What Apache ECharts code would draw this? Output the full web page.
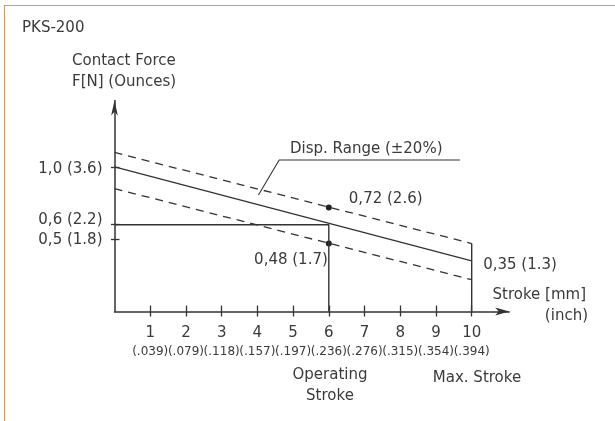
<!DOCTYPE html>
<html>
<head>
<meta charset="utf-8">
<script src="https://cdn.jsdelivr.net/npm/echarts@6/dist/echarts.min.js"></script>
<style>
html,body{margin:0;padding:0;background:#fff;}
#c{width:615px;height:421px;}
</style>
</head>
<body>
<div id="c"></div>
<script>
// ---- data ----
const strokeTicks = [1, 2, 3, 4, 5, 6, 7, 8, 9, 10];
const inchLabels = ['(.039)', '(.079)', '(.118)', '(.157)', '(.197)', '(.236)', '(.276)', '(.315)', '(.354)', '(.394)'];
const forceTicks = [0.5, 0.6, 1.0];
const forceLabels = ['0,5 (1.8)', '0,6 (2.2)', '1,0 (3.6)'];
const nominalForce = [[0, 1.0], [10, 0.35]];
const upperTolerance = [[0, 1.10], [10, 0.47]];
const lowerTolerance = [[0, 0.85], [10, 0.22]];
const operatingLine = [[0, 0.6], [6, 0.6], [6, 0]];
const maxStrokeLine = [[10, 0], [10, 0.47]];
const operatingPoints = [[6, 0.72], [6, 0.47]];
const operatingPointLabels = ['0,72 (2.6)', '0,48 (1.7)'];
const endPoint = [[10, 0.35]];
const endPointLabel = '0,35 (1.3)';
const leaderLine = [[4.03, 0.806], [4.61, 1.048], [9.67, 1.048]];

const FONT = 'DejaVu Sans';
const INK = '#333';
const TXT = '#3a3a3a';

// ---- geometry ----
const X0 = 114.5, PXX = 35.72, XMAX = 11.05;
const Y0 = 311.5, PXY = 144.6, YMAX = 1.46;

const chart = echarts.init(document.getElementById('c'));

function txt(text, x, y, align, size) {
  return {
    type: 'text', x: x, y: y, silent: true,
    style: { text: text, font: (size || 15) + 'px "' + FONT + '"', fill: TXT, align: align || 'left', verticalAlign: 'middle' }
  };
}
function forceLabel(v) {
  let i = 0;
  forceTicks.forEach(function (t, k) { if (Math.abs(t - v) < 1e-6) i = k; });
  return forceLabels[i];
}
const mainForceTicks = forceTicks.filter(function (t) { return t !== 0.6; });
const sideForceTicks = forceTicks.filter(function (t) { return t === 0.6; });
const oddStroke = strokeTicks.filter(function (t) { return t % 2 === 1; });
const evenStroke = strokeTicks.filter(function (t) { return t % 2 === 0; });

const strokeLabel = {
  show: true, margin: 12.5, hideOverlap: false, showMinLabel: true, showMaxLabel: true,
  formatter: function (v) {
    const i = strokeTicks.indexOf(Math.round(v));
    return '{n|' + strokeTicks[i] + '}\n{i|' + inchLabels[i] + '}';
  },
  rich: {
    n: { fontFamily: FONT, fontSize: 15, lineHeight: 19, color: TXT },
    i: { fontFamily: FONT, fontSize: 12, lineHeight: 17, color: TXT }
  }
};

const option = {
  animation: false,
  backgroundColor: '#fff',
  grid: {
    left: X0, top: Y0 - YMAX * PXY, width: XMAX * PXX, height: YMAX * PXY,
    containLabel: false, outerBoundsMode: 'none'
  },
  xAxis: [{
    type: 'value', min: 0, max: XMAX,
    axisLine: { show: true, lineStyle: { color: INK, width: 1.5 }, symbol: ['none', 'arrow'], symbolSize: [6, 14] },
    axisTick: { show: false },
    axisLabel: Object.assign({ customValues: oddStroke }, strokeLabel),
    splitLine: { show: false }
  }, {
    type: 'value', min: 0, max: XMAX, position: 'bottom',
    axisLine: { show: false },
    axisTick: { show: true, inside: true, length: 6, lineStyle: { color: INK, width: 1.3 }, customValues: strokeTicks },
    axisLabel: Object.assign({ customValues: evenStroke }, strokeLabel),
    splitLine: { show: false }
  }, {
    type: 'value', min: 0, max: XMAX, position: 'bottom',
    axisLine: { show: false },
    axisTick: { show: true, inside: false, length: 5, lineStyle: { color: INK, width: 1.3 }, customValues: strokeTicks },
    axisLabel: { show: false },
    splitLine: { show: false }
  }],
  yAxis: [{
    type: 'value', min: 0, max: YMAX,
    axisLine: { show: true, lineStyle: { color: INK, width: 1.5 }, symbol: ['none', 'arrow'], symbolSize: [5, 15] },
    axisTick: { show: true, inside: false, length: 3.5, lineStyle: { color: INK, width: 1.3 }, customValues: forceTicks },
    axisLabel: {
      show: true, margin: 12, customValues: mainForceTicks, hideOverlap: false, showMinLabel: true, showMaxLabel: true,
      formatter: function (v) {
        return (v > 0.9 ? '{s2| }\n' : '{s3| }\n') + '{t|' + forceLabel(v) + '}';
      },
      rich: {
        t: { fontFamily: FONT, fontSize: 15, lineHeight: 18, color: TXT, align: 'right' },
        s2: { fontSize: 1, lineHeight: 4 },
        s3: { fontSize: 1, lineHeight: 2 }
      }
    },
    splitLine: { show: false }
  }, {
    type: 'value', min: 0, max: YMAX, position: 'left',
    axisLine: { show: false },
    axisTick: { show: true, inside: true, length: 5, lineStyle: { color: INK, width: 1.3 }, customValues: forceTicks },
    axisLabel: {
      show: true, margin: 12, customValues: sideForceTicks, hideOverlap: false, showMinLabel: true, showMaxLabel: true,
      formatter: function (v) { return '{t|' + forceLabel(v) + '}\n{s| }'; },
      rich: {
        t: { fontFamily: FONT, fontSize: 15, lineHeight: 18, color: TXT, align: 'right' },
        s: { fontSize: 1, lineHeight: 10 }
      }
    },
    splitLine: { show: false }
  }],
  series: [
    { type: 'line', data: nominalForce, symbol: 'none', lineStyle: { color: INK, width: 1.4 }, silent: true },
    { type: 'line', data: upperTolerance, symbol: 'none', lineStyle: { color: INK, width: 1.3, type: [8, 6] }, silent: true },
    { type: 'line', data: lowerTolerance, symbol: 'none', lineStyle: { color: INK, width: 1.3, type: [8, 6] }, silent: true },
    { type: 'line', data: operatingLine, symbol: 'none', lineStyle: { color: INK, width: 1.4 }, silent: true },
    { type: 'line', data: maxStrokeLine, symbol: 'none', lineStyle: { color: INK, width: 1.4 }, silent: true },
    { type: 'line', data: leaderLine, symbol: 'none', lineStyle: { color: INK, width: 1.1 }, silent: true },
    {
      type: 'scatter', symbolSize: 6, itemStyle: { color: '#222', opacity: 1 }, silent: true,
      data: [
        { value: operatingPoints[0], label: { show: true, formatter: operatingPointLabels[0], position: 'right', distance: 17, offset: [0, -8], fontFamily: FONT, fontSize: 15, color: TXT, opacity: 1 } },
        { value: operatingPoints[1], label: { show: true, formatter: operatingPointLabels[1], position: 'bottom', align: 'right', distance: 6, offset: [-1, 0], fontFamily: FONT, fontSize: 15, color: TXT, opacity: 1 } }
      ]
    },
    {
      type: 'scatter', symbolSize: 1, itemStyle: { color: '#fff', opacity: 1 }, silent: true, z: 1,
      data: [{ value: endPoint[0], label: { show: true, formatter: endPointLabel, position: 'right', distance: 11, offset: [0, 4], fontFamily: FONT, fontSize: 15, color: TXT, opacity: 1 } }]
    }
  ],
  graphic: [
    { type: 'rect', silent: true, shape: { x: 4.5, y: 5.5, width: 640, height: 440 }, style: { fill: 'none', stroke: '#c8a165', lineWidth: 1.2 } },
    txt('PKS-200', 22, 28),
    txt('Contact Force', 72, 61),
    txt('F[N] (Ounces)', 72, 82),
    txt('Disp. Range (\u00B120%)', 290, 149),
    txt('Stroke [mm]', 586, 295, 'right'),
    txt('(inch)', 588, 316, 'right'),
    txt('Operating', 330, 375, 'center'),
    txt('Stroke', 330, 396, 'center'),
    txt('Max. Stroke', 477, 378, 'center')
  ]
};
chart.setOption(option);
</script>
</body>
</html>
